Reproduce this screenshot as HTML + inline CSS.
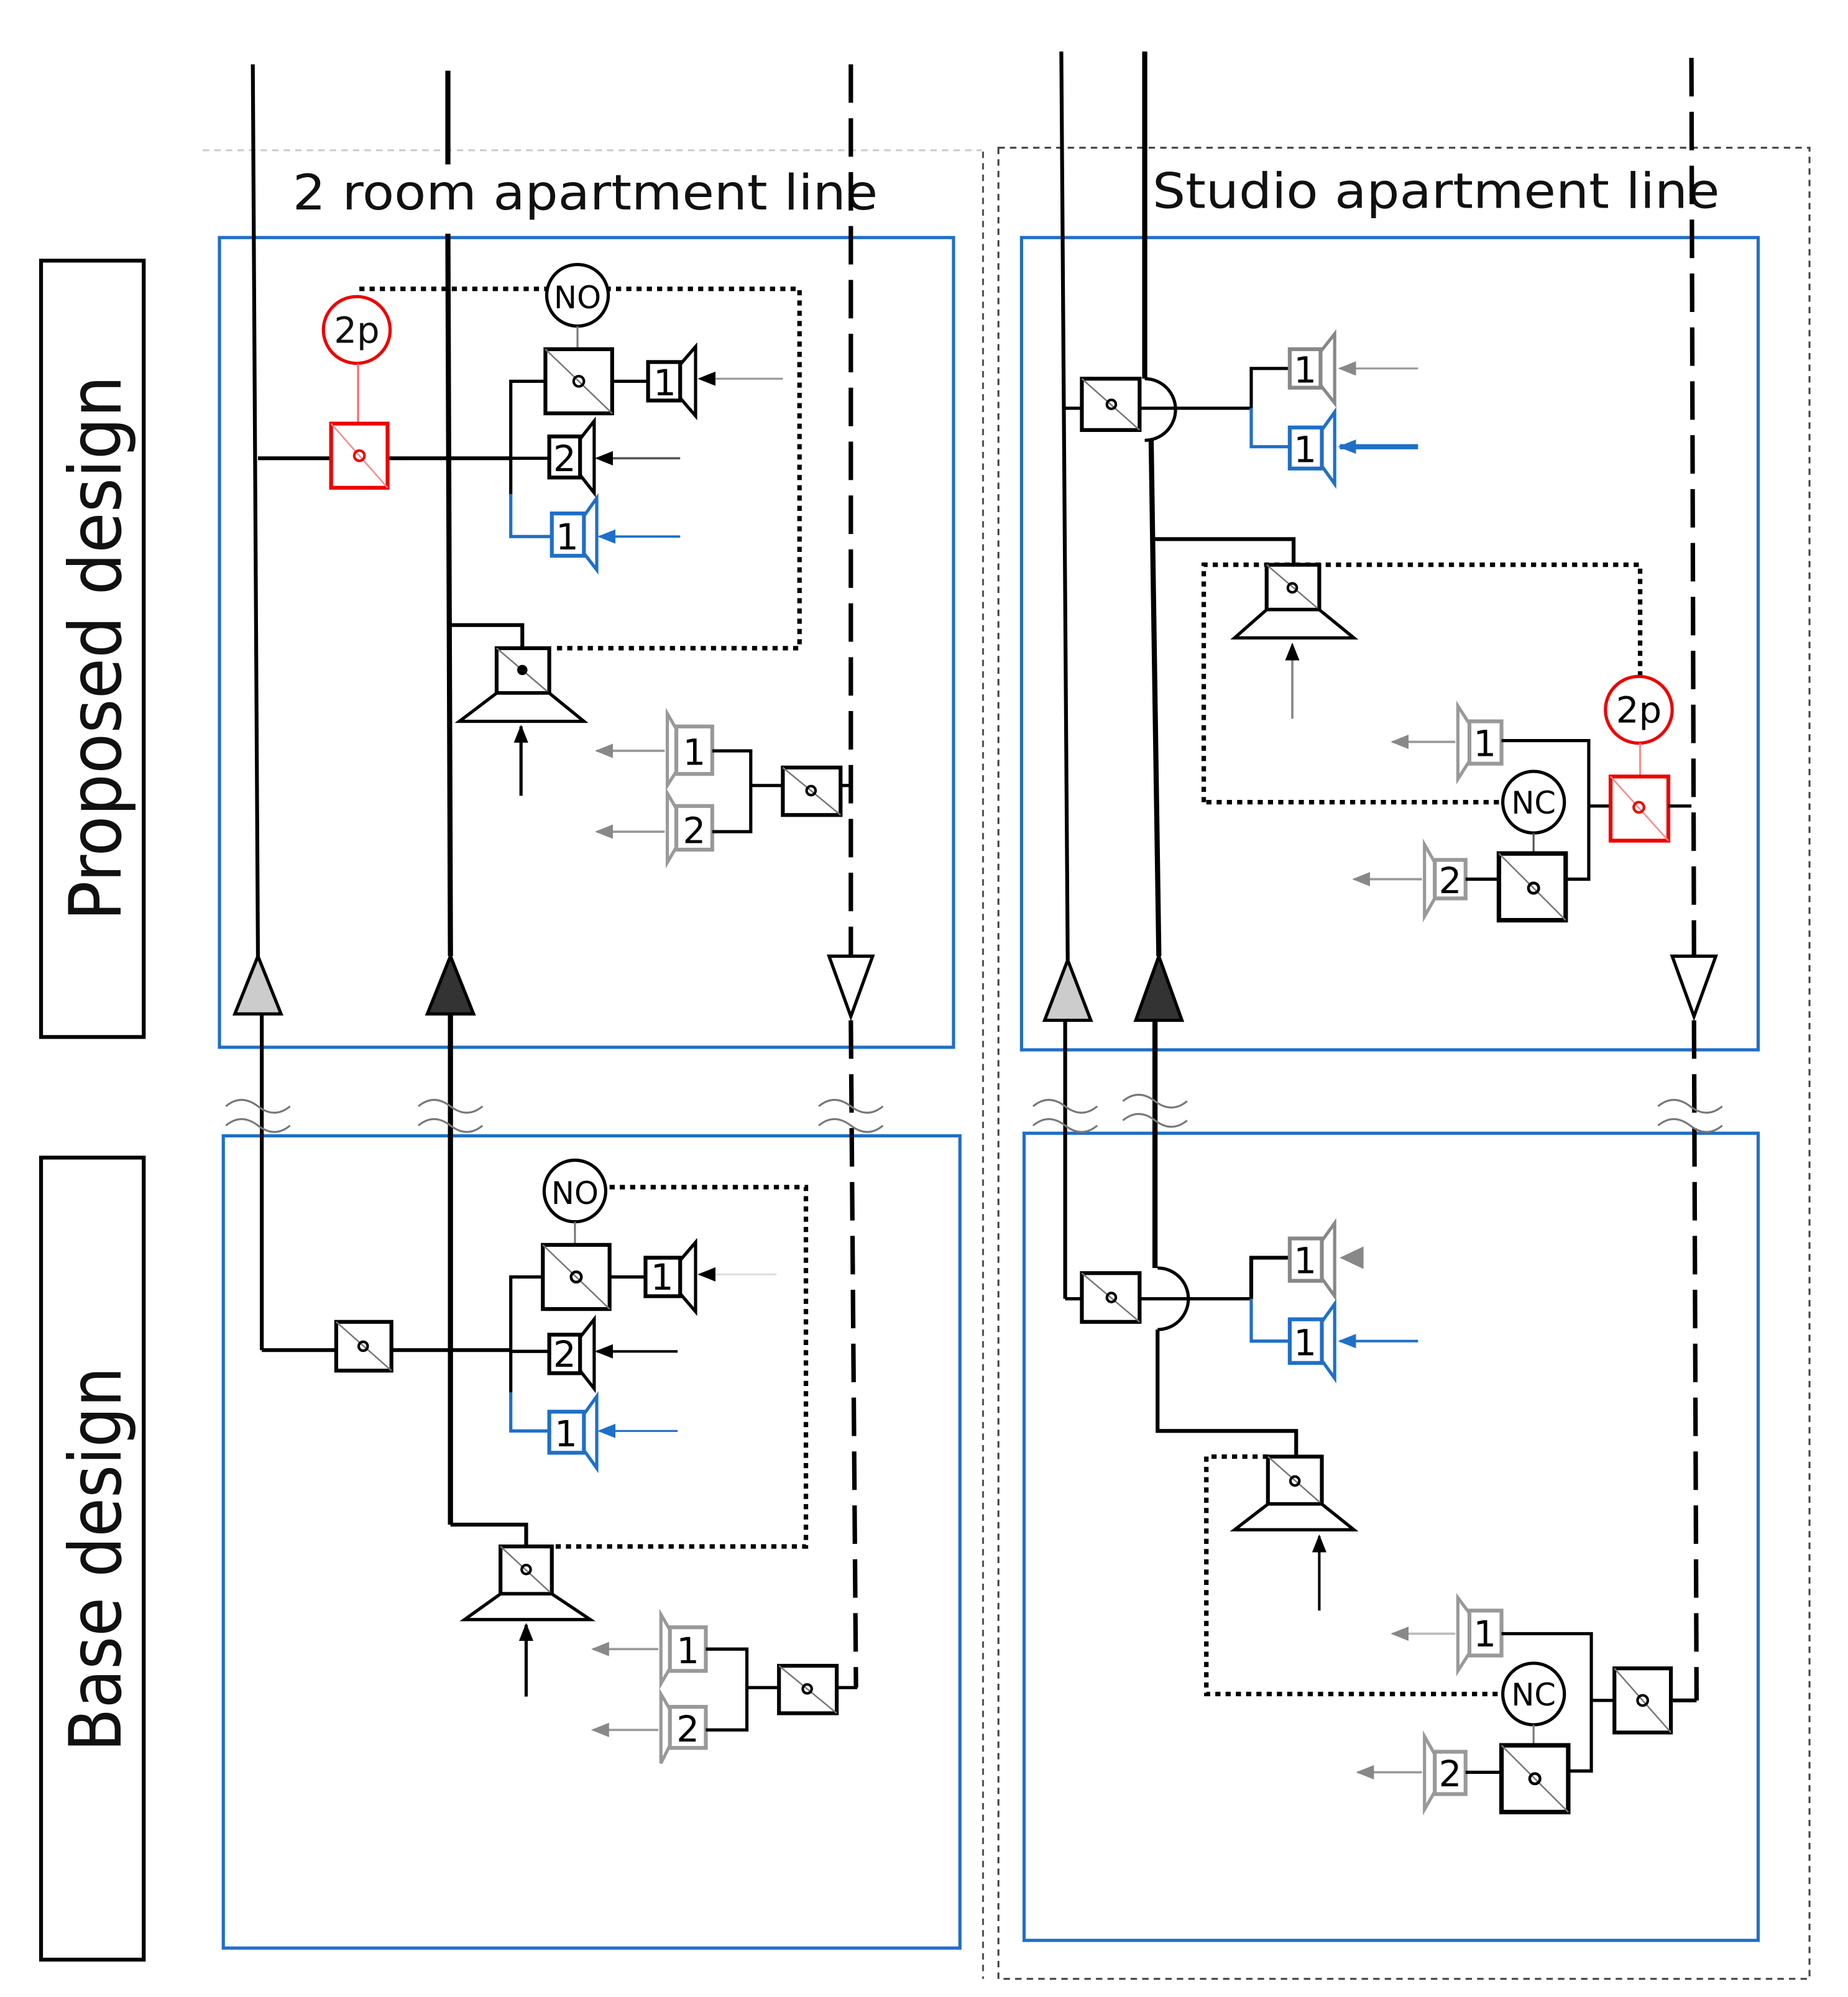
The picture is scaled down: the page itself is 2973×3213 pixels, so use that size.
<!DOCTYPE html>
<html><head><meta charset="utf-8"><style>
html,body{margin:0;padding:0;background:#fff;}
svg{display:block;}
text{font-family:"DejaVu Sans","Liberation Sans",sans-serif;}
</style></head><body>
<svg width="2973" height="3213" viewBox="0 0 1440 1556" xmlns="http://www.w3.org/2000/svg">
<defs>
<marker id="ab" viewBox="0 0 10 10" refX="9" refY="5" markerWidth="7" markerHeight="7" markerUnits="userSpaceOnUse" orient="auto"><path d="M0,0L10,5L0,10z" fill="#000"/></marker>
<marker id="ag" viewBox="0 0 10 10" refX="9" refY="5" markerWidth="14" markerHeight="14" markerUnits="userSpaceOnUse" orient="auto"><path d="M0,1L10,5L0,9z" fill="#888"/></marker>
<marker id="abl" viewBox="0 0 10 10" refX="9" refY="5" markerWidth="14" markerHeight="14" markerUnits="userSpaceOnUse" orient="auto"><path d="M0,1L10,5L0,9z" fill="#1f6fc8"/></marker>
<marker id="abk" viewBox="0 0 10 10" refX="9" refY="5" markerWidth="14" markerHeight="14" markerUnits="userSpaceOnUse" orient="auto"><path d="M0,1L10,5L0,9z" fill="#000"/></marker>
</defs>
<g fill="none">
<line x1="158" y1="117" x2="765" y2="117" stroke="#ccc" stroke-width="1.5" stroke-dasharray="5,4"/>
<line x1="766" y1="118" x2="766" y2="1542" stroke="#555" stroke-width="1.5" stroke-dasharray="5,4"/>
<rect x="778" y="115" width="632" height="1427" stroke="#444" stroke-width="1.5" stroke-dasharray="5,4"/>
<rect x="32" y="203" width="80" height="605" stroke="#000" stroke-width="3"/>
<rect x="32" y="902" width="80" height="625" stroke="#000" stroke-width="3"/>
<rect x="171" y="185" width="572" height="631" stroke="#1f6fc8" stroke-width="2.5"/>
<rect x="174" y="885" width="574" height="633" stroke="#1f6fc8" stroke-width="2.5"/>
<rect x="796" y="185" width="574" height="633" stroke="#1f6fc8" stroke-width="2.5"/>
<rect x="798" y="883" width="572" height="629" stroke="#1f6fc8" stroke-width="2.5"/>
</g>
<rect x="225" y="125" width="470" height="48" fill="#fff"/>
<rect x="895" y="125" width="455" height="48" fill="#fff"/>
<text x="456" y="163" font-size="38" text-anchor="middle" fill="#111" textLength="456" lengthAdjust="spacingAndGlyphs">2 room apartment line</text>
<text x="1119" y="162" font-size="38" text-anchor="middle" fill="#111" textLength="442" lengthAdjust="spacingAndGlyphs">Studio apartment line</text>
<text transform="translate(94,505) rotate(-90)" font-size="56" text-anchor="middle" fill="#111" textLength="425" lengthAdjust="spacingAndGlyphs">Proposed design</text>
<text transform="translate(94,1215) rotate(-90)" font-size="56" text-anchor="middle" fill="#111" textLength="300" lengthAdjust="spacingAndGlyphs">Base design</text>

<g fill="none" stroke="#000">
<line x1="197" y1="50" x2="201" y2="745" stroke-width="3"/>
<line x1="349" y1="55" x2="349" y2="128" stroke-width="4"/>
<line x1="349" y1="182" x2="351" y2="745" stroke-width="4"/>
<line x1="663" y1="50" x2="663" y2="745" stroke-width="3.5" stroke-dasharray="30,12"/>
<line x1="204" y1="790" x2="204" y2="1052" stroke-width="3"/>
<line x1="351" y1="790" x2="351" y2="1188" stroke-width="4"/>
<line x1="663" y1="795" x2="667" y2="1315" stroke-width="3.5" stroke-dasharray="30,12"/>
<polygon points="201,745 183,790 219,790" fill="#ccc" stroke-width="2.5"/>
<polygon points="351,745 333,790 369,790" fill="#333" stroke-width="2.5"/>
<polygon points="646,745 680,745 663,792" fill="#fff" stroke-width="2.5"/>
<line x1="827" y1="40" x2="832" y2="748" stroke-width="3"/>
<line x1="892" y1="40" x2="892" y2="295" stroke-width="4"/>
<line x1="897" y1="343" x2="903" y2="745" stroke-width="4"/>
<line x1="1318" y1="45" x2="1320" y2="745" stroke-width="3.5" stroke-dasharray="30,12"/>
<line x1="830" y1="795" x2="830" y2="1012" stroke-width="3"/>
<line x1="900" y1="795" x2="900" y2="988" stroke-width="4"/>
<line x1="1320" y1="795" x2="1322" y2="1325" stroke-width="3.5" stroke-dasharray="30,12"/>
<polygon points="832,748 814,795 850,795" fill="#ccc" stroke-width="2.5"/>
<polygon points="903,745 885,795 921,795" fill="#333" stroke-width="2.5"/>
<polygon points="1303,745 1337,745 1320,792" fill="#fff" stroke-width="2.5"/>
</g>
<g fill="none" stroke="#777" stroke-width="1.5">
<path d="M176,862 q12,-10 25,0 t25,0 M176,877 q12,-10 25,0 t25,0"/>
<path d="M326,862 q12,-10 25,0 t25,0 M326,877 q12,-10 25,0 t25,0"/>
<path d="M638,862 q12,-10 25,0 t25,0 M638,877 q12,-10 25,0 t25,0"/>
<path d="M805,862 q12,-10 25,0 t25,0 M805,877 q12,-10 25,0 t25,0"/>
<path d="M875,858 q12,-10 25,0 t25,0 M875,873 q12,-10 25,0 t25,0"/>
<path d="M1292,862 q12,-10 25,0 t25,0 M1292,877 q12,-10 25,0 t25,0"/>
</g>

<g fill="none" stroke="#000">
<path d="M280,225 H623 V505 H430" stroke-width="3.5" stroke-dasharray="4,4"/>
<line x1="201" y1="357" x2="398" y2="357" stroke-width="3"/>
<path d="M425,297 H398 V385" stroke-width="2.5"/>
<path d="M398,385 V418 H430" stroke="#1f6fc8" stroke-width="2.5"/>
<line x1="398" y1="357" x2="428" y2="357" stroke-width="2.5"/>
<line x1="477" y1="297" x2="505" y2="297" stroke-width="2.5"/>
<circle cx="450" cy="230" r="24" fill="#fff" stroke-width="2.5"/>
<line x1="450" y1="254" x2="450" y2="272" stroke="#777" stroke-width="1.5"/>
<rect x="425" y="272" width="52" height="50" fill="#fff" stroke-width="3"/>
<line x1="425" y1="272" x2="477" y2="322" stroke="#777" stroke-width="1.2"/><circle cx="451" cy="297" r="4" stroke-width="2"/>
<rect x="505" y="282" width="25" height="30" fill="#fff" stroke-width="3"/>
<polygon points="530,284 542,270 542,324 530,310" stroke-width="2.5"/>
<line x1="610" y1="295" x2="545" y2="295" stroke="#999" stroke-width="1.5" marker-end="url(#abk)"/>
<rect x="428" y="340" width="24" height="32" fill="#fff" stroke-width="3"/>
<polygon points="452,342 463,328 463,384 452,370" stroke-width="2.5"/>
<line x1="530" y1="357" x2="465" y2="357" stroke="#555" stroke-width="1.8" marker-end="url(#abk)"/>
<rect x="430" y="400" width="25" height="33" fill="#fff" stroke="#1f6fc8" stroke-width="3"/>
<polygon points="455,402 465,388 465,444 455,431" stroke="#1f6fc8" stroke-width="2.5"/>
<line x1="530" y1="418" x2="467" y2="418" stroke="#1f6fc8" stroke-width="1.8" marker-end="url(#abl)"/>
<circle cx="278" cy="257" r="26" fill="#fff" stroke="#e00" stroke-width="2.5"/>
<line x1="279" y1="283" x2="279" y2="330" stroke="#f66" stroke-width="1.5"/>
<rect x="258" y="330" width="44" height="50" fill="#fff" stroke="#e00" stroke-width="3"/>
<line x1="258" y1="330" x2="302" y2="380" stroke="#f88" stroke-width="1.2"/><circle cx="280" cy="355" r="4" stroke="#e00" stroke-width="2"/>
<path d="M351,487 H407 V505" stroke-width="3"/>
<rect x="387" y="505" width="41" height="35" fill="#fff" stroke-width="3"/>
<line x1="387" y1="505" x2="428" y2="540" stroke="#777" stroke-width="1.2"/><circle cx="407" cy="522" r="3.5" fill="#000"/>
<polygon points="387,540 428,540 455,562 358,562" fill="#fff" stroke-width="2.5"/>
<line x1="406" y1="620" x2="406" y2="566" stroke-width="2.5" marker-end="url(#abk)"/>
<rect x="527" y="566" width="28" height="37" fill="#fff" stroke="#999" stroke-width="3"/>
<polygon points="527,568 520,556 520,612 527,601" stroke="#999" stroke-width="2.5"/>
<line x1="518" y1="585" x2="465" y2="585" stroke="#999" stroke-width="1.8" marker-end="url(#ag)"/>
<rect x="527" y="628" width="28" height="34" fill="#fff" stroke="#999" stroke-width="3"/>
<polygon points="527,630 520,618 520,672 527,660" stroke="#999" stroke-width="2.5"/>
<line x1="518" y1="648" x2="465" y2="648" stroke="#999" stroke-width="1.8" marker-end="url(#ag)"/>
<path d="M555,585 H585 V648 H555 M585,612 H610" stroke-width="2.5"/>
<rect x="610" y="598" width="45" height="37" fill="#fff" stroke-width="3"/>
<line x1="610" y1="598" x2="655" y2="635" stroke="#777" stroke-width="1.2"/><circle cx="632" cy="616" r="3.5" stroke-width="2"/>
<line x1="655" y1="612" x2="663" y2="612" stroke-width="2.5"/>
</g>
<g font-size="28" text-anchor="middle" fill="#000">
<text x="450" y="240" font-size="24">NO</text>
<text x="278" y="267" font-size="28" fill="#111">2p</text>
<text x="518" y="308">1</text>
<text x="440" y="367">2</text>
<text x="442" y="428">1</text>
<text x="541" y="596">1</text>
<text x="541" y="657">2</text>
</g>

<g fill="none" stroke="#000">
<path d="M475,925 H628 V1205 H430" stroke-width="3.5" stroke-dasharray="4,4"/>
<line x1="204" y1="1052" x2="398" y2="1052" stroke-width="3"/>
<rect x="262" y="1030" width="43" height="38" fill="#fff" stroke-width="3"/>
<line x1="262" y1="1030" x2="305" y2="1068" stroke="#777" stroke-width="1.2"/><circle cx="283" cy="1049" r="3.5" stroke-width="2"/>
<path d="M423,995 H398 V1085" stroke-width="2.5"/>
<path d="M398,1085 V1115 H428" stroke="#1f6fc8" stroke-width="2.5"/>
<line x1="398" y1="1053" x2="428" y2="1053" stroke-width="2.5"/>
<line x1="475" y1="995" x2="503" y2="995" stroke-width="2.5"/>
<circle cx="448" cy="928" r="24" fill="#fff" stroke-width="2.5"/>
<line x1="448" y1="952" x2="448" y2="970" stroke="#777" stroke-width="1.5"/>
<rect x="423" y="970" width="52" height="50" fill="#fff" stroke-width="3"/>
<line x1="423" y1="970" x2="475" y2="1020" stroke="#777" stroke-width="1.2"/><circle cx="449" cy="995" r="4" stroke-width="2.2"/>
<rect x="503" y="980" width="27" height="30" fill="#fff" stroke-width="3"/>
<polygon points="530,982 542,968 542,1022 530,1008" stroke-width="2.5"/>
<line x1="605" y1="993" x2="545" y2="993" stroke="#ddd" stroke-width="1.5" marker-end="url(#abk)"/>
<rect x="428" y="1040" width="24" height="30" fill="#fff" stroke-width="3"/>
<polygon points="452,1042 463,1028 463,1082 452,1068" stroke-width="2.5"/>
<line x1="528" y1="1053" x2="465" y2="1053" stroke-width="2" marker-end="url(#abk)"/>
<rect x="428" y="1100" width="27" height="32" fill="#fff" stroke="#1f6fc8" stroke-width="3"/>
<polygon points="455,1102 465,1088 465,1144 455,1130" stroke="#1f6fc8" stroke-width="2.5"/>
<line x1="528" y1="1115" x2="467" y2="1115" stroke="#1f6fc8" stroke-width="1.5" marker-end="url(#abl)"/>
<path d="M351,1188 H410 V1205" stroke-width="3"/>
<rect x="390" y="1205" width="40" height="37" fill="#fff" stroke-width="3"/>
<line x1="390" y1="1205" x2="430" y2="1242" stroke="#777" stroke-width="1.2"/><circle cx="410" cy="1223" r="3.5" stroke-width="2"/>
<polygon points="390,1242 430,1242 460,1262 362,1262" fill="#fff" stroke-width="2.5"/>
<line x1="410" y1="1322" x2="410" y2="1266" stroke-width="2.5" marker-end="url(#abk)"/>
<rect x="522" y="1268" width="28" height="34" fill="#fff" stroke="#999" stroke-width="3"/>
<polygon points="522,1270 515,1258 515,1312 522,1300" stroke="#999" stroke-width="2.5"/>
<line x1="513" y1="1285" x2="462" y2="1285" stroke="#999" stroke-width="1.8" marker-end="url(#ag)"/>
<rect x="522" y="1330" width="28" height="32" fill="#fff" stroke="#999" stroke-width="3"/>
<polygon points="522,1332 515,1320 515,1374 522,1360" stroke="#999" stroke-width="2.5"/>
<line x1="513" y1="1348" x2="462" y2="1348" stroke="#999" stroke-width="1.8" marker-end="url(#ag)"/>
<path d="M550,1285 H582 V1348 H550 M582,1315 H607" stroke-width="2.5"/>
<rect x="607" y="1298" width="45" height="37" fill="#fff" stroke-width="3"/>
<line x1="607" y1="1298" x2="652" y2="1335" stroke="#777" stroke-width="1.2"/><circle cx="629" cy="1316" r="3.5" stroke-width="2"/>
<line x1="652" y1="1315" x2="668" y2="1315" stroke-width="2.5"/>
</g>
<g font-size="28" text-anchor="middle" fill="#000">
<text x="448" y="938" font-size="24">NO</text>
<text x="516" y="1005">1</text>
<text x="440" y="1065">2</text>
<text x="441" y="1127">1</text>
<text x="536" y="1296">1</text>
<text x="536" y="1357">2</text>
</g>

<g fill="none" stroke="#000">
<path d="M938,625 V440 H1278 V528" stroke-width="3.5" stroke-dasharray="4,4"/>
<line x1="940" y1="625" x2="1170" y2="625" stroke-width="3.5" stroke-dasharray="4,4"/>
<line x1="830" y1="318" x2="975" y2="318" stroke-width="2.5"/>
<rect x="843" y="295" width="45" height="40" fill="#fff" stroke-width="3"/>
<line x1="843" y1="295" x2="888" y2="335" stroke="#777" stroke-width="1.2"/><circle cx="866" cy="315" r="3.5" stroke-width="2"/>
<path d="M892,295 A24,24 0 0 1 892,343" stroke-width="2.5"/>
<path d="M1005,287 H975 V318" stroke-width="2.5"/>
<path d="M975,318 V348 H1005" stroke="#1f6fc8" stroke-width="2.5"/>
<rect x="1005" y="272" width="24" height="30" fill="#fff" stroke="#888" stroke-width="3"/>
<polygon points="1029,274 1040,260 1040,314 1029,300" stroke="#888" stroke-width="2.5"/>
<line x1="1105" y1="287" x2="1044" y2="287" stroke="#999" stroke-width="1.5" marker-end="url(#ag)"/>
<rect x="1005" y="333" width="25" height="32" fill="#fff" stroke="#1f6fc8" stroke-width="3"/>
<polygon points="1030,335 1040,321 1040,377 1030,363" stroke="#1f6fc8" stroke-width="2.5"/>
<line x1="1105" y1="348" x2="1044" y2="348" stroke="#1f6fc8" stroke-width="4" marker-end="url(#abl)"/>
<path d="M897,420 H1008 V440" stroke-width="3"/>
<rect x="987" y="440" width="41" height="35" fill="#fff" stroke-width="3"/>
<line x1="987" y1="440" x2="1028" y2="475" stroke="#777" stroke-width="1.2"/><circle cx="1007" cy="458" r="3.5" stroke-width="2"/>
<polygon points="987,475 1028,475 1055,497 962,497" fill="#fff" stroke-width="2.5"/>
<line x1="1007" y1="560" x2="1007" y2="502" stroke="#888" stroke-width="1.8" marker-end="url(#abk)"/>
<rect x="1145" y="562" width="25" height="33" fill="#fff" stroke="#999" stroke-width="3"/>
<polygon points="1145,564 1136,550 1136,607 1145,593" stroke="#999" stroke-width="2.5"/>
<line x1="1134" y1="578" x2="1085" y2="578" stroke="#999" stroke-width="1.8" marker-end="url(#ag)"/>
<path d="M1170,577 H1238 V685 H1220 M1238,628 H1255" stroke-width="2.5"/>
<circle cx="1195" cy="625" r="24" fill="#fff" stroke-width="2.5"/>
<line x1="1195" y1="649" x2="1195" y2="665" stroke="#555" stroke-width="1.5"/>
<rect x="1168" y="665" width="52" height="52" fill="#fff" stroke-width="3.5"/>
<line x1="1168" y1="665" x2="1220" y2="717" stroke="#777" stroke-width="1.2"/><circle cx="1195" cy="692" r="4" stroke-width="2.2"/>
<rect x="1118" y="670" width="24" height="30" fill="#fff" stroke="#999" stroke-width="3"/>
<polygon points="1118,672 1110,658 1110,714 1118,700" stroke="#999" stroke-width="2.5"/>
<line x1="1108" y1="685" x2="1055" y2="685" stroke="#999" stroke-width="1.8" marker-end="url(#ag)"/>
<line x1="1142" y1="685" x2="1168" y2="685" stroke-width="2.5"/>
<circle cx="1277" cy="553" r="26" fill="#fff" stroke="#e00" stroke-width="2.5"/>
<line x1="1278" y1="579" x2="1278" y2="605" stroke="#f88" stroke-width="1.5"/>
<rect x="1255" y="605" width="45" height="50" fill="#fff" stroke="#e00" stroke-width="3"/>
<line x1="1255" y1="605" x2="1300" y2="655" stroke="#f88" stroke-width="1.2"/><circle cx="1277" cy="629" r="4" stroke="#e00" stroke-width="2"/>
<line x1="1300" y1="628" x2="1318" y2="628" stroke-width="2.5"/>
</g>
<g font-size="28" text-anchor="middle" fill="#000">
<text x="1017" y="298">1</text>
<text x="1017" y="360">1</text>
<text x="1157" y="589">1</text>
<text x="1195" y="634" font-size="24">NC</text>
<text x="1130" y="696">2</text>
<text x="1277" y="563">2p</text>
</g>

<g fill="none" stroke="#000">
<path d="M988,1135 H940 V1320 H1170" stroke-width="3.5" stroke-dasharray="4,4"/>
<line x1="830" y1="1012" x2="975" y2="1012" stroke-width="2.5"/>
<rect x="843" y="992" width="45" height="38" fill="#fff" stroke-width="3"/>
<line x1="843" y1="992" x2="888" y2="1030" stroke="#777" stroke-width="1.2"/><circle cx="866" cy="1011" r="3.5" stroke-width="2"/>
<path d="M902,988 A24,24 0 0 1 902,1036" stroke-width="2.5"/>
<path d="M1005,980 H975 V1012" stroke-width="3"/>
<path d="M975,1012 V1045 H1005" stroke="#1f6fc8" stroke-width="2.5"/>
<rect x="1005" y="965" width="25" height="33" fill="#fff" stroke="#888" stroke-width="3"/>
<polygon points="1030,967 1040,953 1040,1010 1030,996" stroke="#888" stroke-width="2.5"/>
<path d="M1062,972 L1045,980 L1062,988z" fill="#888" stroke="#888"/>
<rect x="1005" y="1028" width="25" height="34" fill="#fff" stroke="#1f6fc8" stroke-width="3"/>
<polygon points="1030,1030 1040,1016 1040,1074 1030,1060" stroke="#1f6fc8" stroke-width="2.5"/>
<line x1="1105" y1="1045" x2="1044" y2="1045" stroke="#1f6fc8" stroke-width="2" marker-end="url(#abl)"/>
<path d="M902,1036 V1115 H1010 V1135" stroke-width="3"/>
<rect x="988" y="1135" width="42" height="37" fill="#fff" stroke-width="3"/>
<line x1="988" y1="1135" x2="1030" y2="1172" stroke="#777" stroke-width="1.2"/><circle cx="1009" cy="1154" r="3.5" stroke-width="2"/>
<polygon points="988,1172 1030,1172 1055,1192 962,1192" fill="#fff" stroke-width="2.5"/>
<line x1="1028" y1="1255" x2="1028" y2="1197" stroke-width="2" marker-end="url(#abk)"/>
<rect x="1145" y="1255" width="25" height="35" fill="#fff" stroke="#999" stroke-width="3"/>
<polygon points="1145,1257 1136,1245 1136,1302 1145,1288" stroke="#999" stroke-width="2.5"/>
<line x1="1134" y1="1273" x2="1085" y2="1273" stroke="#bbb" stroke-width="1.8" marker-end="url(#ag)"/>
<path d="M1170,1273 H1240 V1380 H1222 M1240,1325 H1258" stroke-width="2.5"/>
<circle cx="1195" cy="1320" r="24" fill="#fff" stroke-width="2.5"/>
<line x1="1195" y1="1344" x2="1195" y2="1360" stroke="#777" stroke-width="1.5"/>
<rect x="1170" y="1360" width="52" height="52" fill="#fff" stroke-width="3.5"/>
<line x1="1170" y1="1360" x2="1222" y2="1412" stroke="#777" stroke-width="1.2"/><circle cx="1196" cy="1386" r="4" stroke-width="2.2"/>
<rect x="1118" y="1365" width="24" height="33" fill="#fff" stroke="#999" stroke-width="3"/>
<polygon points="1118,1367 1110,1353 1110,1410 1118,1396" stroke="#999" stroke-width="2.5"/>
<line x1="1108" y1="1381" x2="1058" y2="1381" stroke="#999" stroke-width="1.8" marker-end="url(#ag)"/>
<line x1="1142" y1="1381" x2="1170" y2="1381" stroke-width="2.5"/>
<rect x="1258" y="1300" width="44" height="50" fill="#fff" stroke-width="3"/>
<line x1="1258" y1="1300" x2="1302" y2="1350" stroke="#777" stroke-width="1.2"/><circle cx="1280" cy="1325" r="4" stroke-width="2"/>
<line x1="1302" y1="1325" x2="1322" y2="1325" stroke-width="3"/>
</g>
<g font-size="28" text-anchor="middle" fill="#000">
<text x="1017" y="992">1</text>
<text x="1017" y="1056">1</text>
<text x="1157" y="1283">1</text>
<text x="1195" y="1329" font-size="24">NC</text>
<text x="1130" y="1392">2</text>
</g>
</svg>
</body></html>
